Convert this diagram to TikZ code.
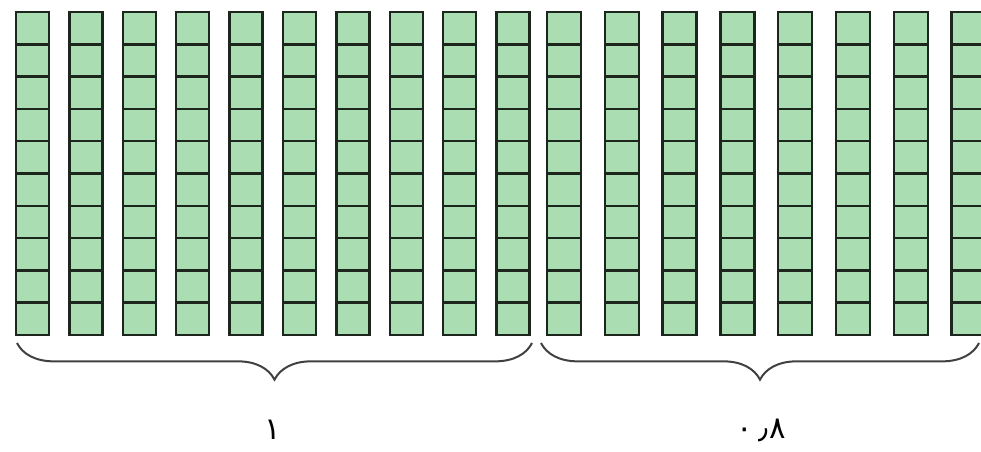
\documentclass[tikz,border=0pt]{standalone}
\usepackage{fontspec}
\newfontfamily\arabicfont[Script=Arabic]{DejaVu Sans}
\usetikzlibrary{decorations.pathreplacing}
\definecolor{cellgreen}{RGB}{170,222,178}
\definecolor{celledge}{RGB}{28,38,28}
\definecolor{bracegray}{RGB}{64,64,64}

\begin{document}
\begin{tikzpicture}[x=0.75pt,y=-0.75pt,
  cell/.style={fill=cellgreen,draw=celledge,line width=1.9pt},
  bracket/.style={draw=bracegray,line width=1.5pt,decorate,
    decoration={brace,mirror,amplitude=27.5pt}},
  lbl/.style={font=\arabicfont\fontsize{23}{25}\selectfont,text=black}]
  \useasboundingbox (0,0) rectangle (981,452);
  \clip (0,0) rectangle (981,452);
  % ten columns = 1
  \foreach \c in {0,...,9}
    \foreach \r in {0,...,9}
      \draw[cell] ({16+53.4*\c},{12+32.3*\r}) rectangle +(33,32.3);
  % eight columns = 0.8
  \foreach \c in {0,...,7}
    \foreach \r in {0,...,9}
      \draw[cell] ({547+57.8*\c},{12+32.3*\r}) rectangle +(34,32.3);
  \coordinate (oneL) at (17,343);
  \coordinate (oneR) at (532,343);
  \coordinate (eightL) at (541,343);
  \coordinate (eightR) at (979,343);
  \draw[bracket] (oneL) -- (oneR);
  \draw[bracket] (eightL) -- (eightR);
  \node[lbl] (one) at (273,430) {١};
  \node[lbl] (eight) at (761,430) {٠\kern4pt٫\kern1pt٨};
\end{tikzpicture}
\end{document}
